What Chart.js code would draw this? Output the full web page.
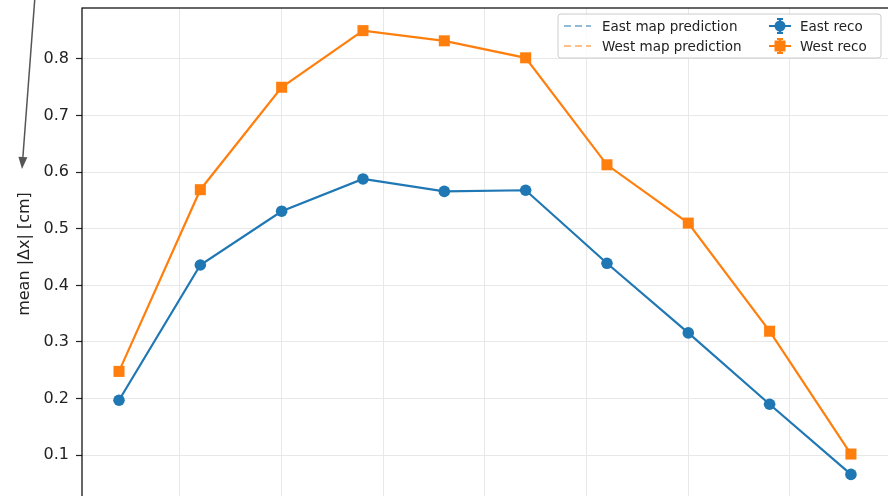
<!DOCTYPE html>
<html>
<head>
<meta charset="utf-8">
<script src="https://cdn.jsdelivr.net/npm/chart.js@4/dist/chart.umd.min.js"></script>
<style>
  html, body { margin: 0; padding: 0; background: #fff; overflow: hidden; width: 888px; height: 496px; }
  #wrap { position: absolute; left: 0; top: 0; width: 892px; height: 500px; }
  #chart { width: 892px; height: 500px; }
</style>
</head>
<body>
<div id="wrap"><canvas id="chart" width="892" height="500"></canvas></div>
<script>
// bin centres (x axis labels are cropped out of the picture)
const binCentres = [10, 30, 50, 70, 90, 110, 130, 150, 170, 190];

// mean |dx| per bin, cm
const eastReco = [0.197, 0.436, 0.531, 0.588, 0.566, 0.568, 0.439, 0.316, 0.190, 0.066];
const westReco = [0.248, 0.569, 0.750, 0.850, 0.832, 0.802, 0.613, 0.510, 0.319, 0.102];

const yTicks = [0.1, 0.2, 0.3, 0.4, 0.5, 0.6, 0.7, 0.8];
const xGrid = [25, 50, 75, 100, 125, 150, 175];

const legendPrediction = ['East map prediction', 'West map prediction'];
const legendReco = ['East reco', 'West reco'];

const BLUE = '#1f77b4';
const ORANGE = '#ff7f0e';

function toPoints(values) {
    return values.map((v, i) => ({ x: binCentres[i], y: v }));
}

// no extra label padding, the plot area runs past the crop
function noPadding(scale) {
    scale.paddingTop = 0;
    scale.paddingBottom = 0;
    scale.paddingLeft = 0;
    scale.paddingRight = 0;
}

/**
 * Matplotlib style frame, left + top spines
 */
const framePlugin = {
    id: 'frame',
    afterDatasetsDraw(chart) {
        const { ctx, chartArea } = chart;
        ctx.save();
        ctx.strokeStyle = '#000';
        ctx.lineWidth = 1.2;
        ctx.strokeRect(chartArea.left, chartArea.top, chartArea.right - chartArea.left, chartArea.bottom - chartArea.top);
        ctx.restore();
    }
};

/**
 * Arrow coming in from outside the crop, top left
 */
const arrowPlugin = {
    id: 'arrow',
    afterDraw(chart) {
        const { ctx, chartArea } = chart;
        const x0 = chartArea.left - 47, y0 = chartArea.top - 12;
        const x1 = chartArea.left - 60, y1 = chartArea.top + 161;
        const ang = Math.atan2(y1 - y0, x1 - x0);
        const headLen = 12, headW = 4.5;
        ctx.save();
        ctx.strokeStyle = '#555';
        ctx.fillStyle = '#555';
        ctx.lineWidth = 1.5;
        const bx = x1 - headLen * Math.cos(ang), by = y1 - headLen * Math.sin(ang);
        ctx.beginPath();
        ctx.moveTo(x0, y0);
        ctx.lineTo(bx, by);
        ctx.stroke();
        ctx.beginPath();
        ctx.moveTo(x1, y1);
        ctx.lineTo(bx + headW * Math.sin(ang), by - headW * Math.cos(ang));
        ctx.lineTo(bx - headW * Math.sin(ang), by + headW * Math.cos(ang));
        ctx.closePath();
        ctx.fill();
        ctx.restore();
    }
};

/**
 * Two column legend like matplotlib ncol=2
 */
const legendPlugin = {
    id: 'mplLegend',
    afterDraw(chart) {
        const { ctx, chartArea } = chart;
        const boxW = 323, boxH = 44;
        const bx = 888 - 7 - boxW;
        const by = chartArea.top + 6;
        ctx.save();
        // box
        ctx.beginPath();
        ctx.roundRect(bx, by, boxW, boxH, 3);
        ctx.fillStyle = 'rgba(255,255,255,0.8)';
        ctx.fill();
        ctx.strokeStyle = '#cccccc';
        ctx.lineWidth = 1;
        ctx.stroke();

        ctx.font = '13.5px "DejaVu Sans"';
        ctx.fillStyle = '#222';
        ctx.textBaseline = 'middle';
        const rows = [by + 12, by + 32];
        const colors = [BLUE, ORANGE];

        rows.forEach((ry, i) => {
            // dashed prediction handle
            ctx.save();
            ctx.globalAlpha = 0.5;
            ctx.strokeStyle = colors[i];
            ctx.lineWidth = 2;
            ctx.setLineDash([7, 4]);
            ctx.beginPath();
            ctx.moveTo(bx + 6, ry);
            ctx.lineTo(bx + 33, ry);
            ctx.stroke();
            ctx.restore();
            ctx.fillText(legendPrediction[i], bx + 44, ry + 1);

            // reco handle: line + errorbar + marker
            const hx = bx + 211, hc = hx + 11;
            ctx.save();
            ctx.strokeStyle = colors[i];
            ctx.fillStyle = colors[i];
            ctx.lineWidth = 2.2;
            ctx.beginPath();
            ctx.moveTo(hx, ry);
            ctx.lineTo(hx + 22, ry);
            ctx.moveTo(hc, ry - 7);
            ctx.lineTo(hc, ry + 7);
            ctx.moveTo(hc - 3, ry - 7);
            ctx.lineTo(hc + 3, ry - 7);
            ctx.moveTo(hc - 3, ry + 7);
            ctx.lineTo(hc + 3, ry + 7);
            ctx.stroke();
            ctx.beginPath();
            if (i === 0) {
                ctx.arc(hc, ry, 5.5, 0, Math.PI * 2);
            } else {
                ctx.rect(hc - 5.5, ry - 5.5, 11, 11);
            }
            ctx.fill();
            ctx.restore();
            ctx.fillText(legendReco[i], bx + 242, ry + 1);
        });
        ctx.restore();
    }
};

const ctx = document.getElementById('chart').getContext('2d');
new Chart(ctx, {
    type: 'line',
    data: {
        datasets: [
            {
                label: legendReco[0],
                data: toPoints(eastReco),
                borderColor: BLUE,
                backgroundColor: BLUE,
                borderWidth: 2.2,
                pointStyle: 'circle',
                pointRadius: 5.8,
                pointBorderWidth: 0,
                tension: 0
            },
            {
                label: legendReco[1],
                data: toPoints(westReco),
                borderColor: ORANGE,
                backgroundColor: ORANGE,
                borderWidth: 2.2,
                pointStyle: 'rect',
                pointRadius: 7.8,
                pointBorderWidth: 0,
                tension: 0
            }
        ]
    },
    options: {
        responsive: false,
        animation: false,
        events: [],
        layout: { autoPadding: false, padding: { top: 8, left: 0, right: 0, bottom: 0 } },
        plugins: {
            legend: { display: false },
            tooltip: { enabled: false }
        },
        scales: {
            x: {
                type: 'linear',
                min: 0.9,
                max: 200.1,
                afterBuildTicks: (scale) => { scale.ticks = xGrid.map(v => ({ value: v })); },
                afterFit: (scale) => { scale.height = 0; noPadding(scale); },
                ticks: { display: false },
                grid: { color: '#e8e8e8', lineWidth: 1, drawTicks: false },
                border: { display: false }
            },
            y: {
                min: 0.0208,
                max: 0.890,
                afterBuildTicks: (scale) => { scale.ticks = yTicks.map(v => ({ value: v })); },
                afterFit: (scale) => { scale.width = 82; noPadding(scale); },
                ticks: {
                    font: { family: 'DejaVu Sans', size: 16 },
                    color: '#222',
                    padding: 7,
                    callback: (v) => v.toFixed(1)
                },
                grid: { color: '#e8e8e8', lineWidth: 1, tickLength: 6, tickColor: '#222', tickWidth: 1.2 },
                border: { display: false },
                title: {
                    display: true,
                    text: 'mean |Δx| [cm]',
                    font: { family: 'DejaVu Sans', size: 16 },
                    color: '#222',
                    padding: { top: 15, bottom: 0 }
                }
            }
        }
    },
    plugins: [framePlugin, arrowPlugin, legendPlugin]
});
</script>
</body>
</html>
